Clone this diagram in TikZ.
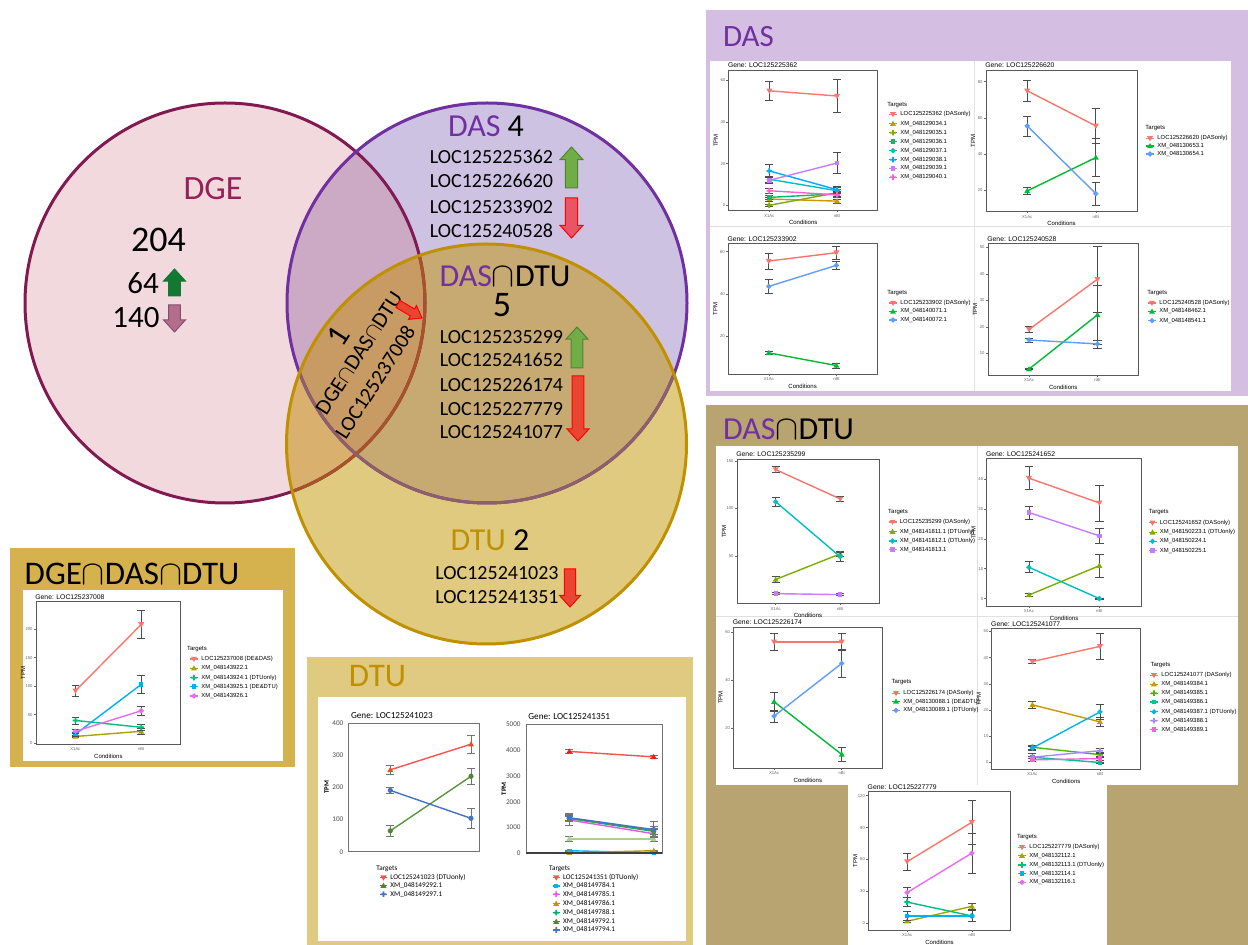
\documentclass[tikz,border=0pt]{standalone}
\usepackage{fontspec}
\setmainfont{Carlito}
\newfontfamily\ggfont{Liberation Sans}
\newcommand\fs[1]{\fontsize{#1}{#1}\selectfont}
% venn colours
\definecolor{cDGEf}{RGB}{242,217,222}
\definecolor{cDASf}{RGB}{206,194,227}
\definecolor{cDTUf}{RGB}{224,202,128}
\definecolor{cDGEDAS}{RGB}{204,170,197}
\definecolor{cDASDTU}{RGB}{199,169,114}
\definecolor{cDGEDTU}{RGB}{217,176,110}
\definecolor{cAll}{RGB}{200,155,100}
\definecolor{cDGEb}{RGB}{130,26,82}
\definecolor{cDASb}{RGB}{112,48,160}
\definecolor{cDTUb}{RGB}{191,144,0}
\definecolor{cDGEbi}{RGB}{168,82,40}
\definecolor{cDASbi}{RGB}{140,95,105}
\definecolor{cDGEt}{RGB}{150,32,88}
\definecolor{arGreen}{RGB}{112,173,71}
\definecolor{arGreenD}{RGB}{84,130,53}
\definecolor{arRedP}{RGB}{234,85,100}
\definecolor{arRed}{RGB}{232,70,50}
\definecolor{arDG}{RGB}{20,120,50}
\definecolor{arMauve}{RGB}{180,110,140}
\definecolor{arMauveD}{RGB}{130,80,110}
% panels
\definecolor{pDAS}{RGB}{212,190,226}
\definecolor{pDASDTU}{RGB}{184,164,112}
\definecolor{pALL}{RGB}{213,178,78}
\definecolor{pDTU}{RGB}{224,201,128}
% ggplot palette
\definecolor{gRed}{HTML}{F8766D}
\definecolor{gCb}{HTML}{00BA38}\definecolor{gCc}{HTML}{619CFF}
\definecolor{gDb}{HTML}{7CAE00}\definecolor{gDc}{HTML}{00BFC4}\definecolor{gDd}{HTML}{C77CFF}
\definecolor{gEb}{HTML}{A3A500}\definecolor{gEc}{HTML}{00BF7D}\definecolor{gEd}{HTML}{00B0F6}\definecolor{gEe}{HTML}{E76BF3}
\definecolor{gGb}{HTML}{C49A00}\definecolor{gGc}{HTML}{53B400}\definecolor{gGd}{HTML}{00C094}\definecolor{gGe}{HTML}{00B6EB}\definecolor{gGf}{HTML}{A58AFF}\definecolor{gGg}{HTML}{FB61D7}
\definecolor{gHb}{HTML}{CD9600}\definecolor{gHc}{HTML}{7CAE00}\definecolor{gHd}{HTML}{00BE67}\definecolor{gHe}{HTML}{00BFC4}\definecolor{gHf}{HTML}{00A9FF}\definecolor{gHg}{HTML}{C77CFF}\definecolor{gHh}{HTML}{FF61CC}
% excel colours
\definecolor{xRedL}{RGB}{255,80,80}
\definecolor{xOr}{RGB}{230,80,30}
\definecolor{xRed}{RGB}{255,20,20}
\definecolor{xGrnL}{RGB}{90,150,60}
\definecolor{xGrn}{RGB}{84,130,53}
\definecolor{xBlu}{RGB}{68,114,196}
\definecolor{xCya}{RGB}{0,176,240}
\definecolor{xMag}{RGB}{225,90,225}
\definecolor{xOli}{RGB}{190,150,0}
\definecolor{xTea}{RGB}{0,176,110}
\definecolor{xLgr}{RGB}{169,208,142}
\tikzset{
  every node/.style={inner sep=0pt},
  vb/.style={line width=1.5pt},
  gframe/.style={draw=black!65, line width=0.35pt},
  gtitle/.style={font=\ggfont\fs{3.4}},
  gax/.style={font=\ggfont\fs{3}},
  gtick/.style={font=\ggfont\fs{2.1}, text=black!60},
  gtickl/.style={draw=black!60, line width=0.25pt},
  gerr/.style={draw=black!70, line width=0.35pt},
  gline/.style={line width=0.7pt},
  gleg/.style={font=\ggfont\fs{2.95}, anchor=west},
  glegt/.style={font=\ggfont\fs{3}, anchor=west},
  xframe/.style={draw=black!55, line width=0.5pt},
  xtitle/.style={font=\fs{4.6}, anchor=west},
  xtick/.style={font=\fs{3.6}, text=black!70, anchor=east},
  xax/.style={font=\bfseries\fs{3.4}},
  xleg/.style={font=\fs{3.6}, anchor=west},
  xerr/.style={draw=black!55, line width=0.4pt},
  mkdown/.pic={\fill[pic actions] (-1.5pt,1.1pt) -- (1.5pt,1.1pt) -- (0pt,-1.5pt) -- cycle;},
  mkup/.pic={\fill[pic actions] (-1.5pt,-1.1pt) -- (1.5pt,-1.1pt) -- (0pt,1.5pt) -- cycle;},
  mkplus/.pic={\fill[pic actions] (-1.4pt,-0.45pt) rectangle (1.4pt,0.45pt) (-0.45pt,-1.4pt) rectangle (0.45pt,1.4pt);},
  mksq/.pic={\fill[pic actions] (-1.1pt,-1.1pt) rectangle (1.1pt,1.1pt);},
  mkdia/.pic={\fill[pic actions] (-1.4pt,0pt) -- (0pt,1.4pt) -- (1.4pt,0pt) -- (0pt,-1.4pt) -- cycle;},
  mkdot/.pic={\fill[pic actions] (0pt,0pt) circle (1.3pt);},
}
% ggplot chart: L T W H ymin ymax title
\newcommand\gchart[7]{%
  \draw[gframe] (#1,#2) rectangle ++(#3,#4);
  \node[gtitle, anchor=base west] at (#1-1,#2-2) {#7};
  \node[gax] at ({#1+#3/2},{#2+#4+12}) {Conditions};
  \node[gax, rotate=90] at ({#1-13},{#2+#4/2}) {TPM};
  \node[gtick] at ({#1+0.6/2.2*#3},{#2+#4+5}) {X1Ac};
  \node[gtick] at ({#1+1.6/2.2*#3},{#2+#4+5}) {nBt};
  \draw[gtickl] ({#1+0.6/2.2*#3},{#2+#4}) -- ++(0,1.5) ({#1+1.6/2.2*#3},{#2+#4}) -- ++(0,1.5);
  \pgfmathsetmacro\cxu{#3*0.5/2.2}%
  \pgfmathsetmacro\cyu{#4*0.5/(#6-(#5))}%
  \begin{scope}[shift={(#1,#2+#4)}, x=\cxu pt, y=\cyu pt, shift={(-0.4,-(#5))}]}
\newcommand\gend{\end{scope}}
\newcommand\ytk[1]{\draw[gtickl] (0.4,#1) -- ++(-1.2pt,0pt) node[gtick, anchor=east, inner sep=0.4pt]{#1};}
\newcommand\gser[6]{%
  \draw[gerr] (1,#3-#4) -- (1,#3+#4) (0.94,#3-#4) -- (1.06,#3-#4) (0.94,#3+#4) -- (1.06,#3+#4)
    (2,#5-#6) -- (2,#5+#6) (1.94,#5-#6) -- (2.06,#5-#6) (1.94,#5+#6) -- (2.06,#5+#6);
  \draw[#1, gline] (1,#3) -- (2,#5);
  \pic[fill=#1] at (1,#3) {mk#2};
  \pic[fill=#1] at (2,#5) {mk#2};}
\newcommand\glg[5]{%
  \draw[#3, line width=0.6pt] (#1,#2) -- ++(8,0);
  \pic[fill=#3] at (#1+4,#2) {mk#4};
  \node[gleg] at (#1+11,#2) {#5};}
% excel chart: L T W H ymax title
\newcommand\xchart[6]{%
  \node[xtitle] at (#1+2,#2-8) {#6};
  \node[xax, rotate=90] at (#1-22,{#2+#4/2}) {TPM};
  \pgfmathsetmacro\cyu{#4*0.5/#5}%
  \draw[xframe] (#1,#2) rectangle ++(#3,#4);
  \begin{scope}[shift={(#1,#2+#4)}, x=0.5pt, y=\cyu pt]}
\newcommand\xtk[1]{\node[xtick] at (-5,#1) {#1};}
\newcommand\xser[7]{%
  \draw[xerr] (\xa,#4-#5) -- (\xa,#4+#5) (\xa-4,#4-#5) -- (\xa+4,#4-#5) (\xa-4,#4+#5) -- (\xa+4,#4+#5)
    (\xb,#6-#7) -- (\xb,#6+#7) (\xb-4,#6-#7) -- (\xb+4,#6-#7) (\xb-4,#6+#7) -- (\xb+4,#6+#7);
  \draw[#1, line width=0.7pt] (\xa,#4) -- (\xb,#6);
  \pic[fill=#2] at (\xa,#4) {mk#3};
  \pic[fill=#2] at (\xb,#6) {mk#3};}
\newcommand\xlg[5]{%
  \draw[#3, line width=0.6pt] (#1,#2) -- ++(7,0);
  \pic[fill=#3] at (#1+3.5,#2) {mk#4};
  \node[xleg] at (#1+10,#2) {#5};}
% block arrows: cx top bottom width fill draw
\newcommand\blkup[6]{\filldraw[fill=#5, draw=#6, line width=0.5pt] (#1,#2) -- ({#1+#4/2},{#2+0.55*#4}) -- ({#1+0.27*#4},{#2+0.55*#4}) -- ({#1+0.27*#4},#3) -- ({#1-0.27*#4},#3) -- ({#1-0.27*#4},{#2+0.55*#4}) -- ({#1-#4/2},{#2+0.55*#4}) -- cycle;}
\newcommand\blkdown[6]{\filldraw[fill=#5, draw=#6, line width=0.5pt] (#1,#3) -- ({#1+#4/2},{#3-0.55*#4}) -- ({#1+0.27*#4},{#3-0.55*#4}) -- ({#1+0.27*#4},#2) -- ({#1-0.27*#4},#2) -- ({#1-0.27*#4},{#3-0.55*#4}) -- ({#1-#4/2},{#3-0.55*#4}) -- cycle;}
\def\pDGE{(225,303) circle [radius=200]}
\def\pDAS{(487,303) circle [radius=200]}
\def\pDTU{(486.5,444) circle [radius=200]}
\begin{document}
\begin{tikzpicture}[x=0.5pt,y=-0.5pt]
\useasboundingbox (0,0) rectangle (1248,945);
\fill[white] (0,0) rectangle (1248,945);
% ---------------- Venn
\fill[cDGEf] \pDGE; \fill[cDASf] \pDAS; \fill[cDTUf] \pDTU;
\begin{scope}\clip \pDGE; \fill[cDGEDAS] \pDAS; \end{scope}
\begin{scope}\clip \pDGE; \fill[cDGEDTU] \pDTU; \end{scope}
\begin{scope}\clip \pDAS; \fill[cDASDTU] \pDTU; \end{scope}
\begin{scope}\clip \pDGE; \clip \pDAS; \fill[cAll] \pDTU; \end{scope}
\draw[vb, cDGEb] \pDGE;
\draw[vb, cDASb] \pDAS;
\begin{scope}\clip \pDTU; \draw[vb, cDGEbi] \pDGE; \draw[vb, cDASbi] \pDAS; \end{scope}
\draw[vb, cDTUb] \pDTU;
% DGE texts
\node[text=cDGEt, font=\fs{17}] (dge) at (213,188.5) {DGE};
\node[font=\fs{18}] (n204) at (158.5,240) {204};
\node[font=\fs{15.5}] (n64) at (143,283) {64};
\node[font=\fs{15.5}] (n140) at (136,318) {140};
\blkup{174.5}{269}{296}{22}{arDG}{arDG}
\blkdown{174.5}{305}{332}{22}{arMauve}{arMauveD}
% DAS texts
\node[font=\fs{16}] (das4) at (486,126) {\textcolor{cDASb}{DAS} 4};
\node[font=\fs{10}] (d1) at (491.5,157) {LOC125225362};
\node[font=\fs{10}] (d2) at (491.5,181) {LOC125226620};
\node[font=\fs{10}] (d3) at (491.5,207) {LOC125233902};
\node[font=\fs{10}] (d4) at (491.5,231) {LOC125240528};
\blkup{571.5}{147}{188}{23}{arGreen}{arGreenD}
\blkdown{571.5}{198}{238}{23}{arRedP}{red}
% DAS cap DTU texts
\node[font=\fs{16}] (dasdtu) at (505,276) {\textcolor{cDASb}{DAS}$\cap$DTU};
\node[font=\fs{18}] (n5) at (502,305) {5};
\node[font=\fs{10}] (e1) at (501.5,337) {LOC125235299};
\node[font=\fs{10}] (e2) at (501.5,360) {LOC125241652};
\node[font=\fs{10}] (e3) at (501.5,385) {LOC125226174};
\node[font=\fs{10}] (e4) at (501.5,409) {LOC125227779};
\node[font=\fs{10}] (e5) at (501.5,432) {LOC125241077};
\blkup{577}{327}{368}{22}{arGreen}{arGreenD}
\blkdown{578}{376}{441}{22}{arRed}{red}
% triple
\node[font=\fs{16}, rotate=57] (n1) at (338,336) {1};
\node[font=\fs{11}, rotate=57] (tri) at (359,353) {DGE$\cap$DAS$\cap$DTU};
\node[font=\fs{10.5}, rotate=57] (tril) at (375,382) {LOC125237008};
\filldraw[fill=arRed, draw=red, line width=0.5pt] (400,300.5) -- (414.5,309) -- (416.5,305.6) -- (422,318) -- (408.5,319.4) -- (410.5,316) -- (396,307.5) -- cycle;
% DTU texts
\node[font=\fs{16}] (dtu2) at (490,540) {\textcolor{cDTUb}{DTU} 2};
\node[font=\fs{10}] (t1) at (497,573) {LOC125241023};
\node[font=\fs{10}] (t2) at (497,597) {LOC125241351};
\blkdown{570}{569}{607}{21}{arRed}{red}
% ---------------- DAS panel
\fill[pDAS] (706,10) rectangle (1248,396);
\fill[white] (710,61) rectangle (1231,391);
\draw[black!12, line width=0.3pt] (974,61) -- (974,391) (710,226) -- (1231,226);
\node[text=cDASb, font=\fs{15.5}] (dastitle) at (748.5,37) {DAS};
% chart A
\gchart{728.7}{70}{149}{140.7}{-2.6}{65}{Gene: LOC125225362}
\ytk{0}\ytk{20}\ytk{40}\ytk{60}
\gser{gHb}{up}{3}{1}{2}{1}
\gser{gHc}{plus}{0}{0.3}{6}{1.5}
\gser{gHd}{sq}{3.8}{1}{5.5}{1}
\gser{gHe}{dia}{12.5}{1.5}{7}{1.5}
\gser{gHf}{plus}{16.5}{3}{7.5}{1.5}
\gser{gHg}{sq}{12}{1.5}{20.3}{5}
\gser{gHh}{plus}{7}{1.2}{5}{1}
\gser{gRed}{down}{55}{4.5}{52.5}{8}
\gend
\node[glegt] at (887,105) {Targets};
\glg{889}{114.3}{gRed}{down}{LOC125225362 (DASonly)}
\glg{889}{123.7}{gHb}{up}{XM\_048129034.1}
\glg{889}{132.7}{gHc}{plus}{XM\_048129035.1}
\glg{889}{141.7}{gHd}{sq}{XM\_048129036.1}
\glg{889}{150.7}{gHe}{dia}{XM\_048129037.1}
\glg{889}{159.7}{gHf}{plus}{XM\_048129038.1}
\glg{889}{168.5}{gHg}{sq}{XM\_048129039.1}
\glg{889}{177.3}{gHh}{plus}{XM\_048129040.1}
% chart B
\gchart{986}{70}{151}{141.7}{8}{86.5}{Gene: LOC125226620}
\ytk{20}\ytk{40}\ytk{60}\ytk{80}
\gser{gCb}{up}{19.5}{2}{38}{10.5}
\gser{gCc}{dia}{55.5}{5.5}{18}{6.5}
\gser{gRed}{down}{75}{6}{55.5}{9.5}
\gend
\node[glegt] at (1145,127.7) {Targets};
\glg{1146}{138.3}{gRed}{down}{LOC125226620 (DASonly)}
\glg{1146}{146}{gCb}{up}{XM\_048130653.1}
\glg{1146}{154}{gCc}{dia}{XM\_048130654.1}
% chart C
\gchart{728.2}{243.8}{148.8}{130.6}{1.8}{63.7}{Gene: LOC125233902}
\ytk{20}\ytk{40}\ytk{60}
\gser{gCb}{up}{12}{0.8}{6}{1.2}
\gser{gCc}{dia}{43.5}{3.2}{53.5}{1.8}
\gser{gRed}{down}{55.5}{3.7}{59.5}{3}
\gend
\node[glegt] at (887,293.4) {Targets};
\glg{889}{303}{gRed}{down}{LOC125233902 (DASonly)}
\glg{889}{311.5}{gCb}{up}{XM\_048140071.1}
\glg{889}{320}{gCc}{dia}{XM\_048140072.1}
% chart D
\gchart{988}{243.8}{150.5}{131.6}{1.6}{51.4}{Gene: LOC125240528}
\ytk{10}\ytk{20}\ytk{30}\ytk{40}\ytk{50}
\gser{gCb}{up}{4}{0.3}{24.5}{11}
\gser{gCc}{dia}{15}{0.8}{13.5}{1.5}
\gser{gRed}{down}{19}{1}{38}{12.5}
\gend
\node[glegt] at (1147,293.4) {Targets};
\glg{1148}{303}{gRed}{down}{LOC125240528 (DASonly)}
\glg{1148}{311.5}{gCb}{up}{XM\_048148462.1}
\glg{1148}{320.7}{gCc}{dia}{XM\_048148541.1}
% ---------------- DAS cap DTU panel
\fill[pDASDTU] (706,405) rectangle (1248,945);
\fill[white] (716,446) rectangle (1238,785);
\fill[white] (848,780) rectangle (1107,945);
\draw[black!12, line width=0.3pt] (977,446) -- (977,785) (716,616) -- (1238,616);
\node[font=\fs{16}] (ddtitle) at (788.5,429) {\textcolor{cDASb}{DAS}$\cap$DTU};
% chart H
\gchart{737}{459}{141.9}{144.7}{-0.6}{152.2}{Gene: LOC125235299}
\ytk{50}\ytk{100}\ytk{150}
\gser{gDb}{up}{25}{3}{52}{3}
\gser{gDc}{dia}{107}{5}{49}{5}
\gser{gDd}{sq}{10}{1}{9}{1}
\gser{gRed}{down}{141}{3}{110}{3}
\gend
\node[glegt] at (887.8,511.7) {Targets};
\glg{888.5}{522}{gRed}{down}{LOC125235299 (DASonly)}
\glg{888.5}{531.7}{gDb}{up}{XM\_048141811.1 (DTUonly)}
\glg{888.5}{541}{gDc}{dia}{XM\_048141812.1 (DTUonly)}
\glg{888.5}{549.6}{gDd}{sq}{XM\_048141813.1}
% chart I
\gchart{986.6}{458.4}{155}{148}{-2.6}{46.9}{Gene: LOC125241652}
\ytk{0}\ytk{10}\ytk{20}\ytk{30}\ytk{40}
\gser{gDb}{up}{1.2}{0.4}{11}{3.8}
\gser{gDc}{dia}{10.5}{1.8}{0}{0.2}
\gser{gDd}{sq}{28.8}{2.2}{21}{2.4}
\gser{gRed}{down}{40.3}{3.8}{32}{6}
\gend
\node[glegt] at (1148.5,512.4) {Targets};
\glg{1148.5}{522.8}{gRed}{down}{LOC125241652 (DASonly)}
\glg{1148.5}{532.4}{gDb}{up}{XM\_048150223.1 (DTUonly)}
\glg{1148.5}{541.4}{gDc}{dia}{XM\_048150224.1}
\glg{1148.5}{550.7}{gDd}{sq}{XM\_048150225.1}
% chart J
\gchart{733.5}{627}{148.8}{141.2}{3.25}{62.2}{Gene: LOC125226174}
\ytk{20}\ytk{40}\ytk{60}
\gser{gCb}{up}{31}{4}{9}{3}
\gser{gCc}{dia}{25}{2.5}{47}{5.7}
\gser{gRed}{down}{56}{3.5}{56}{3.5}
\gend
\node[glegt] at (891.3,682) {Targets};
\glg{892}{693.2}{gRed}{down}{LOC125226174 (DASonly)}
\glg{892}{701.5}{gCb}{up}{XM\_048130088.1 (DE\&DTU)}
\glg{892}{710.4}{gCc}{dia}{XM\_048130089.1 (DTUonly)}
% chart K
\gchart{991.8}{628.8}{148.8}{140.5}{-2.6}{51}{Gene: LOC125241077}
\ytk{0}\ytk{10}\ytk{20}\ytk{30}\ytk{40}\ytk{50}
\gser{gGb}{up}{22}{1.3}{15.5}{1.8}
\gser{gGc}{plus}{5.8}{0.7}{3}{0.8}
\gser{gGd}{sq}{2}{1.5}{0}{0.2}
\gser{gGe}{dia}{5.5}{0.8}{19.3}{3}
\gser{gGf}{plus}{2}{0.5}{4.5}{1}
\gser{gGg}{sq}{1}{0.5}{1.5}{0.5}
\gser{gRed}{down}{38.5}{0.8}{44.3}{5}
\gend
\node[glegt] at (1150.2,665) {Targets};
\glg{1150}{675.3}{gRed}{down}{LOC125241077 (DASonly)}
\glg{1150}{684.2}{gGb}{up}{XM\_048149384.1}
\glg{1150}{693.2}{gGc}{plus}{XM\_048149385.1}
\glg{1150}{702.1}{gGd}{sq}{XM\_048149386.1}
\glg{1150}{711.8}{gGe}{dia}{XM\_048149387.1 (DTUonly)}
\glg{1150}{720.7}{gGf}{plus}{XM\_048149388.1}
\glg{1150}{729.7}{gGg}{sq}{XM\_048149389.1}
% chart L
\gchart{868.3}{791.7}{142.4}{138.3}{-6.2}{123.7}{Gene: LOC125227779}
\ytk{0}\ytk{30}\ytk{60}\ytk{90}\ytk{120}
\gser{gEb}{up}{2}{1}{16}{3}
\gser{gEc}{plus}{20}{4}{7}{5}
\gser{gEd}{sq}{7}{4}{7}{5}
\gser{gEe}{dia}{29}{5}{66}{19}
\gser{gRed}{down}{58}{8}{95}{21}
\gend
\node[glegt] at (1016.7,837.3) {Targets};
\glg{1018}{847.3}{gRed}{down}{LOC125227779 (DASonly)}
\glg{1018}{855.7}{gEb}{up}{XM\_048132112.1}
\glg{1018}{865}{gEc}{plus}{XM\_048132113.1 (DTUonly)}
\glg{1018}{873.7}{gEd}{sq}{XM\_048132114.1}
\glg{1018}{882.3}{gEe}{dia}{XM\_048132116.1}
% ---------------- DGE cap DAS cap DTU panel
\fill[pALL] (10,548) rectangle (295,767);
\fill[white] (23,590) rectangle (283,761);
\node[font=\fs{16.5}] (alltitle) at (132,574) {DGE$\cap$DAS$\cap$DTU};
\gchart{36}{601.7}{144.7}{142.3}{-1.2}{247.8}{Gene: LOC125237008}
\ytk{0}\ytk{50}\ytk{100}\ytk{150}\ytk{200}
\gser{gEb}{up}{12}{2}{21}{6}
\gser{gEc}{plus}{40}{6}{28}{6}
\gser{gEd}{sq}{16}{3}{103}{16}
\gser{gEe}{dia}{21}{3}{57}{8}
\gser{gRed}{down}{92}{9}{208}{24}
\gend
\node[glegt] at (186.7,649) {Targets};
\glg{190}{659}{gRed}{down}{LOC125237008 (DE\&DAS)}
\glg{190}{668.3}{gEb}{up}{XM\_048143922.1}
\glg{190}{677.7}{gEc}{plus}{XM\_048143924.1 (DTUonly)}
\glg{190}{686.7}{gEd}{sq}{XM\_048143925.1 (DE\&DTU)}
\glg{190}{696}{gEe}{dia}{XM\_048143926.1}
% ---------------- DTU panel
\fill[pDTU] (307,657) rectangle (693,945);
\fill[white] (318,697) rectangle (686,941);
\node[text=cDTUb, font=\fs{16.5}] (dtutitle) at (377.5,676) {DTU};
% chart F
\def\xa{41.6}\def\xb{122.3}
\xchart{348.7}{723.3}{130.6}{128.4}{400}{Gene: LOC125241023}
\xtk{0}\xtk{100}\xtk{200}\xtk{300}\xtk{400}
\xser{xGrnL}{xGrn}{dot}{65}{17}{235}{25}
\xser{xBlu}{xBlu}{dot}{191}{8}{104}{30}
\xser{xRedL}{xOr}{up}{255}{13}{335}{28}
\end{scope}
\node[xleg] at (376,869) {Targets};
\xlg{380}{877.7}{xRedL}{down}{LOC125241023 (DTUonly)}
\xlg{380}{885.7}{xGrn}{up}{XM\_048149292.1}
\xlg{380}{894.3}{xBlu}{plus}{XM\_048149297.1}
% chart G
\def\xa{43.3}\def\xb{127.7}
\xchart{526}{724.3}{136}{129}{5000}{Gene: LOC125241351}
\xtk{0}\xtk{1000}\xtk{2000}\xtk{3000}\xtk{4000}\xtk{5000}
\xser{xCya}{xCya}{sq}{100}{30}{20}{10}
\xser{xOli}{xOli}{up}{20}{10}{100}{20}
\xser{xLgr}{xLgr}{up}{560}{100}{560}{100}
\xser{xMag}{xMag}{sq}{1290}{200}{760}{150}
\xser{xTea}{xTea}{dot}{1350}{100}{850}{100}
\xser{xGrnL}{xGrn}{dot}{1360}{100}{880}{150}
\xser{xBlu}{xBlu}{dot}{1380}{150}{920}{300}
\xser{xRedL}{xRed}{up}{3950}{80}{3740}{60}
\draw[black!75, line width=0.9pt] (0,0) -- (136,0);
\end{scope}
\node[xleg] at (548.7,869) {Targets};
\xlg{552.7}{877.7}{xRedL}{down}{LOC125241351 (DTUonly)}
\xlg{552.7}{886}{xCya}{sq}{XM\_048149784.1}
\xlg{552.7}{894.3}{xMag}{plus}{XM\_048149785.1}
\xlg{552.7}{903.7}{xOli}{up}{XM\_048149786.1}
\xlg{552.7}{912.7}{xTea}{plus}{XM\_048149788.1}
\xlg{552.7}{921.7}{xGrn}{up}{XM\_048149792.1}
\xlg{552.7}{930}{xBlu}{plus}{XM\_048149794.1}
\end{tikzpicture}
\end{document}
